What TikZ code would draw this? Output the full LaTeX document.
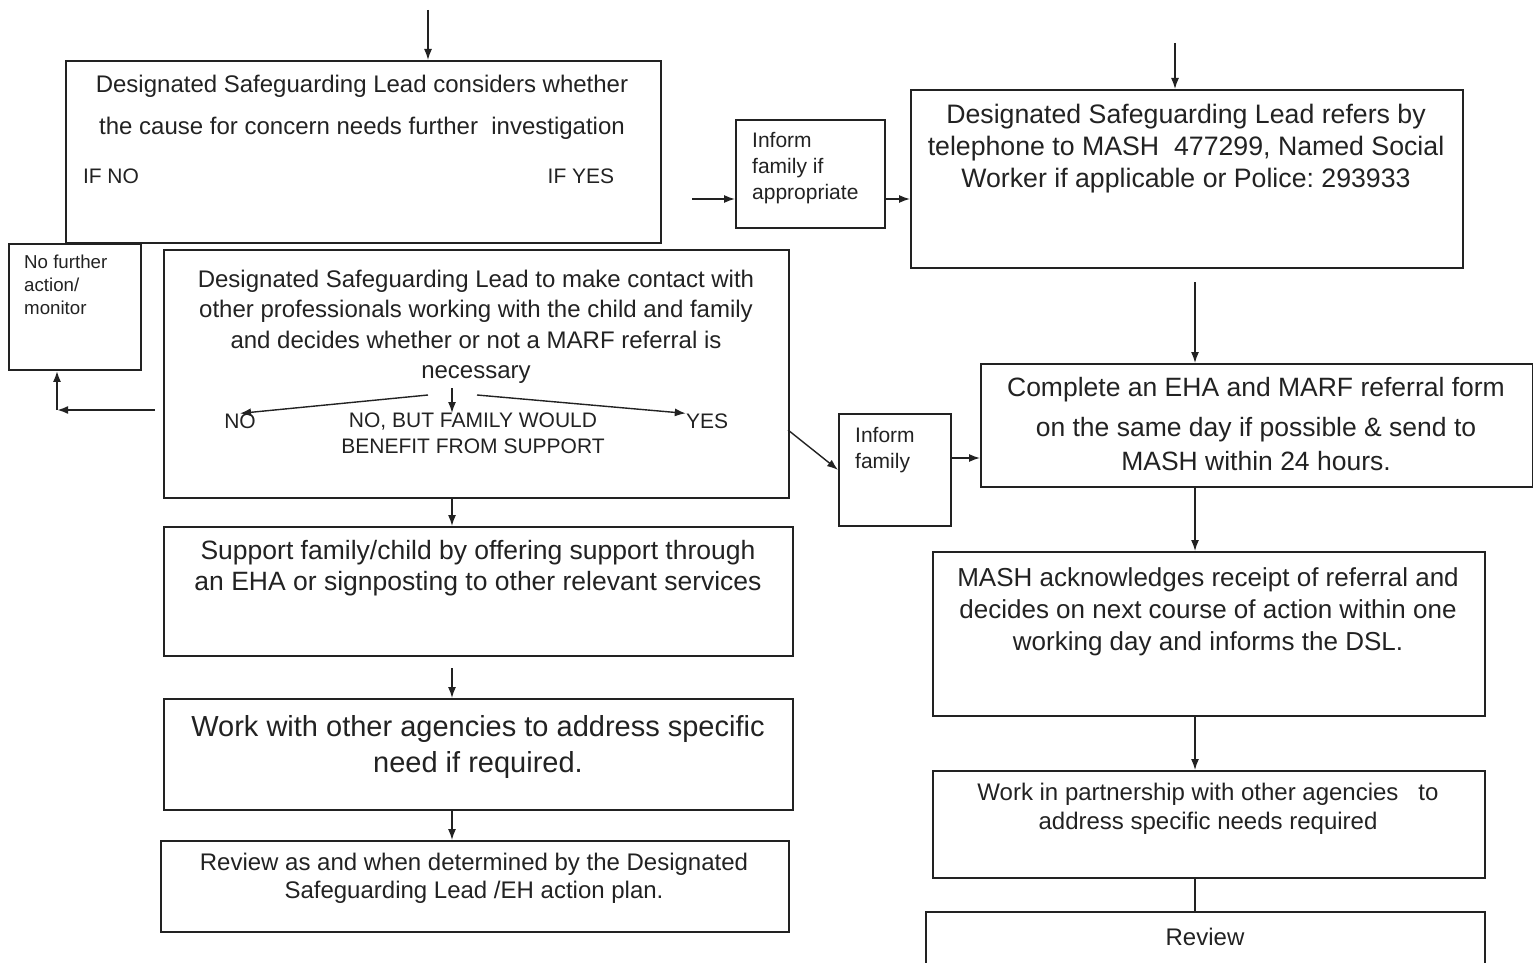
\documentclass[tikz,border=0pt]{standalone}
\usepackage{fontspec}
\setmainfont{Liberation Sans}
\usetikzlibrary{calc,positioning,arrows.meta}
\definecolor{ink}{HTML}{222222}
\newcommand{\setfs}[2]{\fontsize{#1}{#2}\selectfont}
\frenchspacing

\begin{document}
\begin{tikzpicture}[x=1pt,y=-1pt,
    box/.style={draw=ink,line width=1.8pt,inner sep=0pt,anchor=north west},
    txt/.style={anchor=north,align=center,inner sep=0pt,text=ink},
    ltxt/.style={anchor=north west,align=left,inner sep=0pt,text=ink},
    lab/.style={inner sep=0pt,text=ink,font=\setfs{21}{26}},
    arr/.style={draw=ink,line width=1.4pt,-{Latex[length=11pt,width=8pt]}}]

    \useasboundingbox (0,0) rectangle (1533,963);
    \clip (0,0) rectangle (1533,963);

    % columns of the arrows
    \coordinate (lc) at (452,0);
    \coordinate (rc) at (1195,0);

    % left branch
    \node[box,minimum width=595pt,minimum height=182pt] (consider) at (65,60) {};
    \node[txt,font=\setfs{24}{42}] (considerT) at (362,75)
      {Designated Safeguarding Lead considers whether\\the cause for concern needs further\ \ investigation};
    \node[lab] (ifno) at (111,176) {IF NO};
    \node[lab] (ifyes) at (581,176) {IF YES};

    \node[box,minimum width=132pt,minimum height=126pt] (nfa) at (8,243) {};
    \node[ltxt,font=\setfs{18.7}{23}] (nfaT) at (24,255) {No further\\action/\\monitor};

    \node[box,minimum width=625pt,minimum height=248pt] (contact) at (163,249) {};
    \node[txt,font=\setfs{24}{30.3}] (contactT) at (476,270)
      {Designated Safeguarding Lead to make contact with\\other professionals working with the child and family\\and decides whether or not a MARF referral is\\necessary};
    \node[lab] (no) at (240,421) {NO};
    \node[txt,font=\setfs{21}{26}] (fam) at (473,413) {NO, BUT FAMILY WOULD\\BENEFIT FROM SUPPORT};
    \node[lab] (yes) at (707,421) {YES};

    \node[box,minimum width=629pt,minimum height=129pt] (support) at (163,526) {};
    \node[txt,font=\setfs{26.5}{31}] (supportT) at (478,540)
      {Support family/child by offering support through\\an EHA or signposting to other relevant services};

    \node[box,minimum width=629pt,minimum height=111pt] (agencies) at (163,698) {};
    \node[txt,font=\setfs{29}{36}] (agenciesT) at (478,715)
      {Work with other agencies to address specific\\need if required.};

    \node[box,minimum width=628pt,minimum height=91pt] (plan) at (160,840) {};
    \node[txt,font=\setfs{24}{28}] (planT) at (474,853)
      {Review as and when determined by the Designated\\Safeguarding Lead /EH action plan.};

    % right branch
    \node[box,minimum width=149pt,minimum height=108pt] (inform1) at (735,119) {};
    \node[ltxt,font=\setfs{21}{26}] (inform1T) at (752,132) {Inform\\family if\\appropriate};

    \node[box,minimum width=552pt,minimum height=178pt] (refer) at (910,89) {};
    \node[txt,font=\setfs{26.7}{32}] (referT) at (1186,104)
      {Designated Safeguarding Lead refers by\\telephone to MASH\ \ 477299, Named Social\\Worker if applicable or Police: 293933};

    \node[box,minimum width=112pt,minimum height=112pt] (inform2) at (838,413) {};
    \node[ltxt,font=\setfs{21}{26}] (inform2T) at (855,427) {Inform\\family};

    \node[box,minimum width=552pt,minimum height=123pt] (marf) at (980,363) {};
    \node[txt,font=\setfs{26.5}{34}] (marfT) at (1256,377)
      {Complete an EHA and MARF referral form\\[6pt]on the same day if possible \& send to\\MASH within 24 hours.};

    \node[box,minimum width=552pt,minimum height=164pt] (mash) at (932,551) {};
    \node[txt,font=\setfs{26}{32}] (mashT) at (1208,567)
      {MASH acknowledges receipt of referral and\\decides on next course of action within one\\working day and informs the DSL.};

    \node[box,minimum width=552pt,minimum height=107pt] (partner) at (932,770) {};
    \node[txt,font=\setfs{24}{29}] (partnerT) at (1208,783)
      {Work in partnership with other agencies\ \ \ to\\address specific needs required};

    \node[box,minimum width=559pt,minimum height=70pt] (review) at (925,911) {};
    \node[lab,font=\setfs{24}{29}] (reviewT) at (1205,937) {Review};

    % arrows
    \coordinate (inA) at (428,10);
    \coordinate (inB) at (1175,43);
    \coordinate (yesOut) at (692,199);
    \coordinate (noOut) at (155,410);
    \coordinate (nfaCorner) at (57,410);
    \coordinate (fork) at (452,388);
    \coordinate (contactOut) at (788,430);
    \coordinate (famIn) at (950,458);
    \coordinate (referOut) at (1195,282);
    \coordinate (supportOut) at (452,668);

    \draw[arr] (inA) -- (inA |- consider.north);
    \draw[arr] (inB) -- (inB |- refer.north);
    \draw[arr] (yesOut) -- (yesOut -| inform1.west);
    \draw[arr] (yesOut -| inform1.east) -- (yesOut -| refer.west);
    \draw[arr,line width=2pt] (noOut) -- (nfaCorner);
    \draw[arr,line width=2pt] (nfaCorner) -- (nfaCorner |- nfa.south);
    \draw[arr] ($(fork)+(-24,7)$) -- (no.north);
    \draw[arr] (fork) -- (fork |- fam.north);
    \draw[arr] ($(fork)+(25,7)$) -- (yes.north west);
    \draw[arr] (contact.south -| lc) -- (support.north -| lc);
    \draw[arr] (supportOut) -- (supportOut |- agencies.north);
    \draw[arr] (agencies.south -| lc) -- (plan.north -| lc);
    \draw[arr] (referOut) -- (referOut |- marf.north);
    \draw[arr] (contactOut) -- (inform2.west);
    \draw[arr] (famIn) -- (famIn -| marf.west);
    \draw[arr] (marf.south -| rc) -- (mash.north -| rc);
    \draw[arr] (mash.south -| rc) -- (partner.north -| rc);
    \draw[draw=ink,line width=1.4pt] (partner.south -| rc) -- (review.north -| rc);
\end{tikzpicture}
\end{document}
